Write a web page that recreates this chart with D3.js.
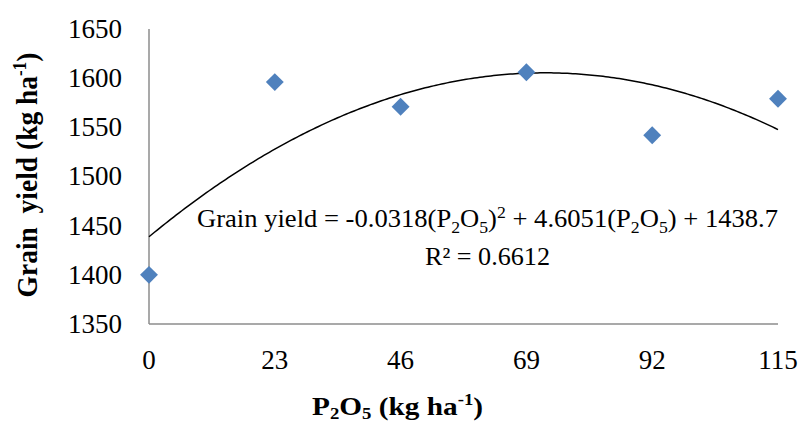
<!DOCTYPE html>
<html>
<head>
<meta charset="utf-8">
<script src="https://cdn.jsdelivr.net/npm/d3@7"></script>
<style>
  html, body { margin: 0; padding: 0; background: #fff; }
  svg { display: block; }
  text { font-family: "Liberation Serif", "Times New Roman", serif; fill: #000; }
</style>
</head>
<body>
<svg id="chart" width="800" height="425"></svg>
<script>
// P2O5 doses (kg ha-1) and measured grain yield (kg ha-1)
const doses = [0, 23, 46, 69, 92, 115];
const grainYield = [1400, 1596, 1571, 1606, 1542, 1579];

// Axis ticks
const xTicks = [0, 23, 46, 69, 92, 115];
const yTicks = [1350, 1400, 1450, 1500, 1550, 1600, 1650];

// Quadratic trendline coefficients: y = a x^2 + b x + c
const trendCoef = [-0.0318, 4.6051, 1438.7];
const rSquared = 0.6612;

const svg = d3.select("#chart");
const plot = { left: 149, right: 778, top: 29, bottom: 324 };

const x = d3.scaleLinear().domain([0, 115]).range([plot.left, plot.right]);
const y = d3.scaleLinear().domain([1350, 1650]).range([plot.bottom, plot.top]);

// Axis lines
svg.append("line")
  .attr("x1", plot.left).attr("x2", plot.left)
  .attr("y1", plot.top).attr("y2", plot.bottom)
  .attr("stroke", "#8c8c8c").attr("stroke-width", 1.5);
svg.append("line")
  .attr("x1", plot.left).attr("x2", plot.right)
  .attr("y1", plot.bottom).attr("y2", plot.bottom)
  .attr("stroke", "#8c8c8c").attr("stroke-width", 1.5);

// Y tick labels
svg.append("g").selectAll("text").data(yTicks).join("text")
  .attr("x", plot.left - 27)
  .attr("y", d => y(d))
  .attr("dy", "0.33em")
  .attr("text-anchor", "end")
  .attr("font-size", 27)
  .text(d => d);

// X tick labels
svg.append("g").selectAll("text").data(xTicks).join("text")
  .attr("x", d => x(d))
  .attr("y", plot.bottom + 45)
  .attr("text-anchor", "middle")
  .attr("font-size", 27)
  .text(d => d);

// Trendline
const [a, b, c] = trendCoef;
const trendPts = d3.range(0, 115.01, 0.5).map(v => [v, a * v * v + b * v + c]);
svg.append("path")
  .datum(trendPts)
  .attr("fill", "none")
  .attr("stroke", "#000")
  .attr("stroke-width", 1.5)
  .attr("d", d3.line().x(d => x(d[0])).y(d => y(d[1])));

// Data markers (diamonds)
const diamond = d3.symbol().type(d3.symbolSquare).size(160);
svg.append("g").selectAll("path").data(doses).join("path")
  .attr("d", diamond)
  .attr("transform", (d, i) => `translate(${x(d)},${y(grainYield[i])}) rotate(45)`)
  .attr("fill", "#4f81bd");

// Equation label
const eq = svg.append("text")
  .attr("x", 197).attr("y", 227)
  .attr("font-size", 25.5)
  .attr("textLength", 581)
  .attr("lengthAdjust", "spacingAndGlyphs");
const sub = (t, s) => { t.append("tspan").attr("font-size", 17).attr("dy", 6).text(s); };
const resetSub = (t, s) => t.append("tspan").attr("dy", -6).text(s);
eq.append("tspan").text("Grain yield = " + a + "(P");
sub(eq, "2");
resetSub(eq, "O");
sub(eq, "5");
resetSub(eq, ")");
eq.append("tspan").attr("font-size", 17).attr("dy", -9).text("2");
eq.append("tspan").attr("dy", 9).text(" + " + b + "(P");
sub(eq, "2");
resetSub(eq, "O");
sub(eq, "5");
resetSub(eq, ") + " + c);

svg.append("text")
  .attr("x", 425).attr("y", 265)
  .attr("font-size", 25.5)
  .attr("textLength", 125)
  .attr("lengthAdjust", "spacingAndGlyphs")
  .text("R² = " + rSquared);

// Axis titles
const yt = svg.append("text")
  .attr("transform", "translate(37,175) scale(1.08,1) rotate(-90)")
  .attr("text-anchor", "middle")
  .attr("font-size", 27.5)
  .attr("font-weight", "bold")
  .style("white-space", "pre");
yt.append("tspan").text("Grain  yield (kg ha");
yt.append("tspan").attr("font-size", 17).attr("dy", -10).text("-1");
yt.append("tspan").attr("dy", 10).text(")");

const xt = svg.append("text")
  .attr("x", 312).attr("y", 415)
  .attr("font-size", 25)
  .attr("font-weight", "bold")
  .attr("textLength", 171)
  .attr("lengthAdjust", "spacingAndGlyphs");
xt.append("tspan").text("P");
xt.append("tspan").attr("font-size", 16).attr("dy", 4).text("2");
xt.append("tspan").attr("dy", -4).text("O");
xt.append("tspan").attr("font-size", 16).attr("dy", 4).text("5");
xt.append("tspan").attr("dy", -4).text(" (kg ha");
xt.append("tspan").attr("font-size", 16).attr("dy", -10).text("-1");
xt.append("tspan").attr("dy", 10).text(")");
</script>
</body>
</html>
